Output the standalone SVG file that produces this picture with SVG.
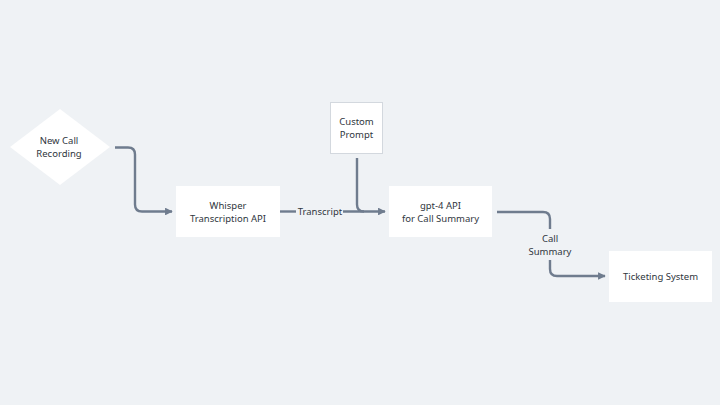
<svg xmlns="http://www.w3.org/2000/svg" width="720" height="405" viewBox="0 0 720 405">
<defs>
<style>
.box{fill:#ffffff;}
.lbl{font-family:"Noto Sans","Liberation Sans",sans-serif;font-size:9.5px;fill:#2f3640;text-anchor:middle;}
.con{fill:none;stroke:#6f7c8e;stroke-width:2.4;}
</style>
<marker id="ah" viewBox="0 0 10 10" refX="9" refY="5" markerWidth="3.2" markerHeight="3.2" orient="auto" markerUnits="strokeWidth">
<path d="M0,0 L10,5 L0,10 z" fill="#6f7c8e"/>
</marker>
</defs>
<rect width="720" height="405" fill="#eff2f5"/>
<g id="connectors">
<path class="con" d="M115,147.5 H128 Q135,147.5 135,154.5 V204.5 Q135,211.5 142,211.5 H172" marker-end="url(#ah)"/>
<path class="con" d="M280,211.5 H296"/>
<path class="con" d="M343,211.5 H385" marker-end="url(#ah)"/>
<path class="con" d="M357,158 V204.5 Q357,211.5 364,211.5"/>
<path class="con" d="M497,212 H543 Q550,212 550,219 V229"/>
<path class="con" d="M550,260 V269 Q550,276 557,276 H605" marker-end="url(#ah)"/>
<text class="lbl" x="320" y="215">Transcript</text>
<text class="lbl" x="550" y="242">Call</text>
<text class="lbl" x="550" y="255">Summary</text>
</g>
<g id="new-call-recording">
<polygon class="box" points="60,109 110,147 60,185 10,147"/>
<text class="lbl" x="59" y="144">New Call</text>
<text class="lbl" x="59" y="157">Recording</text>
</g>
<g id="whisper">
<rect class="box" x="176" y="186" width="104" height="51"/>
<text class="lbl" x="228" y="209">Whisper</text>
<text class="lbl" x="228" y="222">Transcription API</text>
</g>
<g id="custom-prompt">
<rect class="box" x="330.5" y="102.5" width="52" height="51" stroke="#d3d8de" stroke-width="1"/>
<text class="lbl" x="356.5" y="125">Custom</text>
<text class="lbl" x="356.5" y="138">Prompt</text>
</g>
<g id="gpt4">
<rect class="box" x="389" y="186" width="103" height="51"/>
<text class="lbl" x="440.5" y="209">gpt-4 API</text>
<text class="lbl" x="440.5" y="222">for Call Summary</text>
</g>
<g id="ticketing">
<rect class="box" x="609" y="251" width="103" height="51"/>
<text class="lbl" x="660.5" y="280">Ticketing System</text>
</g>
</svg>
